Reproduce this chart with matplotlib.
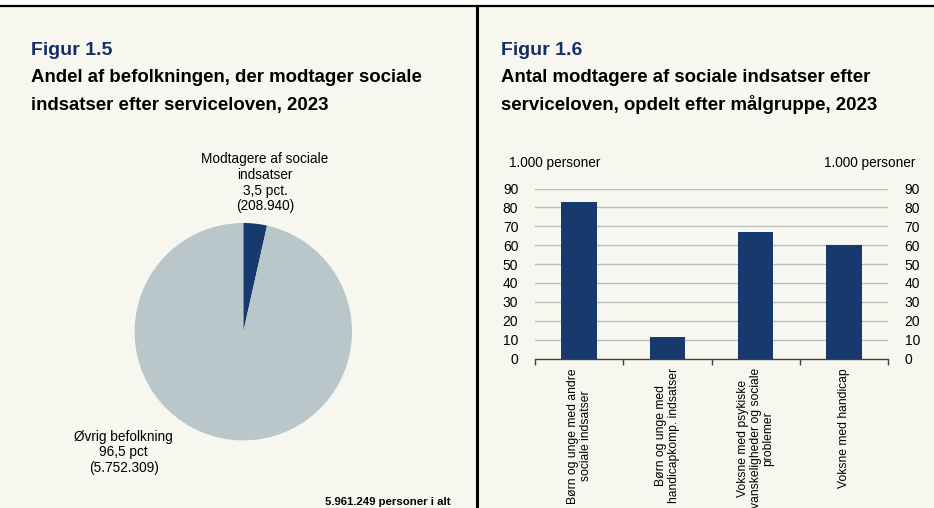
import matplotlib
matplotlib.use("Agg")
import matplotlib.pyplot as plt
from matplotlib.lines import Line2D
from matplotlib.patches import Rectangle

plt.rcParams['font.family'] = ['Liberation Sans', 'DejaVu Sans']

# ---- data ----
pie_labels = ["Modtagere af sociale\nindsatser\n3,5 pct.\n(208.940)",
              "Øvrig befolkning\n96,5 pct\n(5.752.309)"]
pie_values = [208940, 5752309]
total_label = "5.961.249 personer i alt"

bar_categories = ["Børn og unge med andre\nsociale indsatser",
                  "Børn og unge med\nhandicapkomp. indsatser",
                  "Voksne med psykiske\nvanskeligheder og sociale\nproblemer",
                  "Voksne med handicap"]
bar_values = [83, 11.5, 67, 60]
y_ticks = [0, 10, 20, 30, 40, 50, 60, 70, 80, 90]
unit_label = "1.000 personer"

BG = '#F7F7EF'
DARK = '#163A6E'
LIGHT = '#B9C7CA'
TITLE_BLUE = '#142E69'

W, H = 934, 508
fig = plt.figure(figsize=(W / 100, H / 100), dpi=100)
fig.patch.set_facecolor('white')

def fx(px):
    return px / W

def fy(py):
    return 1 - py / H

# cream background below top line
fig.add_artist(Rectangle((0, 0), 1, fy(5.5), transform=fig.transFigure,
                         facecolor=BG, edgecolor='none', zorder=-10))
# top line and vertical divider
fig.add_artist(Line2D([0, 1], [fy(5.5), fy(5.5)], transform=fig.transFigure,
                      color='black', lw=1.6))
fig.add_artist(Line2D([fx(477), fx(477)], [0, fy(5.5)], transform=fig.transFigure,
                      color='black', lw=2.2))

# titles
fig.text(fx(31), fy(55), "Figur 1.5", fontsize=14, fontweight='bold',
         color=TITLE_BLUE, va='baseline', ha='left')
fig.text(fx(31), fy(82), "Andel af befolkningen, der modtager sociale",
         fontsize=13.4, fontweight='bold', color='black', va='baseline', ha='left')
fig.text(fx(31), fy(109.5), "indsatser efter serviceloven, 2023",
         fontsize=13.4, fontweight='bold', color='black', va='baseline', ha='left')

fig.text(fx(501), fy(55), "Figur 1.6", fontsize=14, fontweight='bold',
         color=TITLE_BLUE, va='baseline', ha='left')
fig.text(fx(501), fy(82), "Antal modtagere af sociale indsatser efter",
         fontsize=13.4, fontweight='bold', color='black', va='baseline', ha='left')
fig.text(fx(501), fy(109.5), "serviceloven, opdelt efter målgruppe, 2023",
         fontsize=13.4, fontweight='bold', color='black', va='baseline', ha='left')

# ---- pie ----
cx, cy, r = 243.3, 331.7, 108.7
ax1 = fig.add_axes([fx(cx - r), fy(cy + r), fx(2 * r), (2 * r) / H])
ax1.pie(pie_values, colors=[DARK, LIGHT], startangle=90, counterclock=False,
        radius=1, wedgeprops=dict(linewidth=0))
ax1.set_xlim(-1, 1)
ax1.set_ylim(-1, 1)
ax1.set_aspect('equal')
ax1.axis('off')
ax1.text(0.2, 1.65, pie_labels[0], ha='center', va='top', fontsize=9.8,
         linespacing=1.15, clip_on=False)
ax1.text(-1.1, -0.9, pie_labels[1], ha='center', va='top', fontsize=9.8,
         linespacing=1.15, clip_on=False)
fig.text(fx(451), fy(505), total_label, ha='right', va='baseline',
         fontsize=8.2, fontweight='bold')

# ---- bars ----
ax2 = fig.add_axes([fx(535), fy(358.5), fx(888 - 535), (358.5 - 188.5) / H])
ax2.set_facecolor('none')
x = list(range(len(bar_values)))
ax2.bar(x, bar_values, width=0.4, color=DARK, zorder=3)
ax2.set_xlim(-0.5, len(bar_values) - 0.5)
ax2.set_ylim(0, 90)
ax2.set_yticks(y_ticks)
ax2.set_yticklabels([str(t) for t in y_ticks])
ax2.tick_params(axis='y', length=0, labelsize=10, pad=12,
                labelleft=True, labelright=True)
for t in y_ticks[1:]:
    ax2.axhline(t, color='#BDBDBD', lw=1, zorder=1)
ax2.set_xticks(x)
ax2.set_xticklabels(bar_categories, rotation=90, fontsize=8.7,
                    linespacing=1.1, ha='center', va='top')
ax2.set_xticks([i - 0.5 for i in range(len(bar_values) + 1)], minor=True)
ax2.tick_params(axis='x', which='major', length=0, pad=7)
ax2.tick_params(axis='x', which='minor', length=4, direction='out',
                color='#404040', width=1)
for s in ['left', 'right', 'top']:
    ax2.spines[s].set_visible(False)
ax2.spines['bottom'].set_color('#404040')
ax2.spines['bottom'].set_linewidth(1)
ax2.spines['bottom'].set_zorder(4)

fig.text(fx(509), fy(167), unit_label, ha='left', va='baseline', fontsize=9.8)
fig.text(fx(915), fy(167), unit_label, ha='right', va='baseline', fontsize=9.8)

fig.savefig('out.png', dpi=100, facecolor=fig.get_facecolor())
